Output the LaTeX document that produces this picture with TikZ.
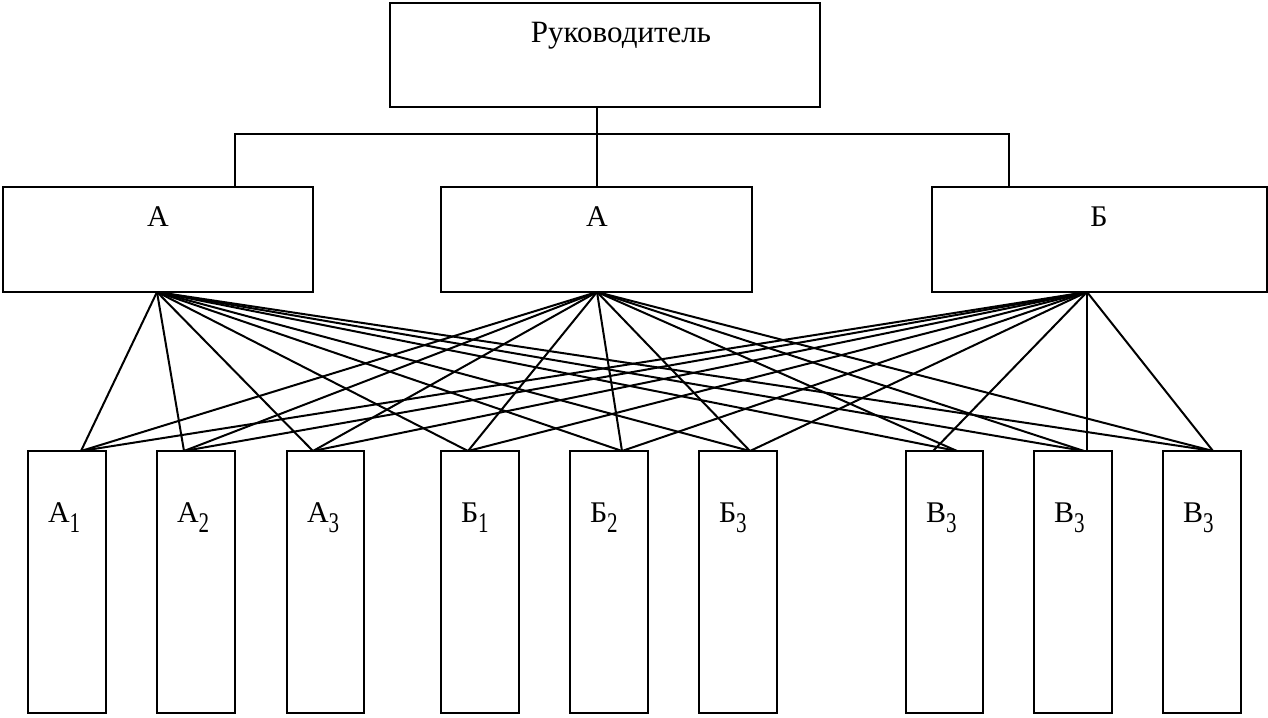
\documentclass[tikz,border=0pt]{standalone}
\usepackage{fontspec}
\setmainfont{Liberation Serif}
\usepackage{graphicx}
% letter with a narrow, lowered index
\newcommand\idx[2]{#1\raisebox{-5pt}{\scalebox{0.7}[0.95]{#2}}}
\begin{document}
\begin{tikzpicture}[x=0.5pt,y=-0.5pt,line width=1pt,
  box/.style={draw,rectangle,inner sep=0pt,outer sep=0pt,anchor=north west},
  txt/.style={font=\fontsize{15pt}{18pt}\selectfont,inner sep=0pt,anchor=base},
  subtxt/.style={font=\fontsize{15pt}{18pt}\selectfont,inner sep=0pt,anchor=base west}]
\useasboundingbox (0,0) rectangle (1268,717);

% box: name, left, top, right, bottom
\newcommand\boxat[5]{%
  \node[box,minimum width={(#4-#2)*0.5pt},minimum height={(#5-#3)*0.5pt}] (#1) at (#2,#3) {};}

% head
\boxat{top}{390}{3}{820}{107}
\node[txt,font=\fontsize{15.5pt}{18pt}\selectfont] (ttop) at (621,43) {Руководитель};

% middle level
\boxat{mA}{3}{187}{313}{292}
\boxat{mAm}{441}{187}{752}{292}
\boxat{mB}{932}{187}{1267}{292}
\node[txt] (tA) at (158,226) {А};
\node[txt] (tAm) at (597,226) {А};
\node[txt] (tB) at (1099,226) {Б};

% bottom level
\foreach \n/\l/\r/\lab in {a1/28/106/{\idx{А}{1}},a2/157/235/{\idx{А}{2}},a3/287/364/{\idx{А}{3}},
                           b1/441/519/{\idx{Б}{1}},b2/570/648/{\idx{Б}{2}},b3/699/777/{\idx{Б}{3}},
                           v1/906/983/{\idx{В}{3}},v2/1034/1112/{\idx{В}{3}},v3/1163/1241/{\idx{В}{3}}}{
  \boxat{\n}{\l}{451}{\r}{713}
  \node[subtxt] (t\n) at (\l+19,522) {\lab};
}

% tree connector from the head
\coordinate (dA) at (235,134);
\coordinate (dB) at (1009,134);
\draw (mAm.north |- top.south) -- (mAm.north);
\draw (dA |- mA.north) -- (dA) -- (dB) -- (dB |- mB.north);

% joints on the lower boxes
\coordinate (p1) at (81,451);
\coordinate (p2) at (184,451);
\coordinate (p3) at (313,451);
\coordinate (p4) at (468,451);
\coordinate (p5) at (622,451);
\coordinate (p6) at (750,451);
\coordinate (p7) at (957,451);
\coordinate (p8) at (1084,451);
\coordinate (p9) at (1213,451);
\coordinate (p7b) at (933,451);
\coordinate (p8b) at (1087,451);

% joints under the middle boxes
\coordinate (apA) at (157,292);
\coordinate (apAm) at (597,292);
\coordinate (apB) at (1087,292);

\foreach \p in {p1,p2,p3,p4,p5,p6,p7,p8,p9}{
  \draw (apA) -- (\p);
  \draw (apAm) -- (\p);
}
\foreach \p in {p1,p2,p3,p4,p5,p6,p7b,p8b,p9}{
  \draw (apB) -- (\p);
}
\end{tikzpicture}
\end{document}
